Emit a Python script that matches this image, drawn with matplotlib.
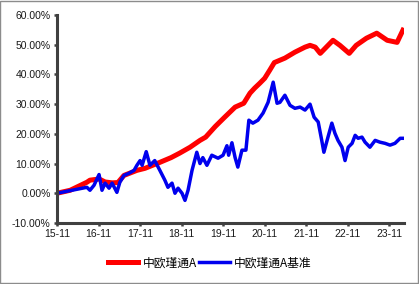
import matplotlib
matplotlib.use("Agg")
import matplotlib.pyplot as plt
import matplotlib.dates as mdates
import pandas as pd
from matplotlib.patches import Rectangle

plt.rcParams['font.family'] = ['Liberation Sans', 'Noto Sans CJK SC', 'DejaVu Sans']

# 中欧瑾通A 累计收益 (%)
fund_dates = ['2015-11-01', '2016-02-25', '2016-07-21', '2016-08-17', '2016-11-06', '2016-12-28',
              '2017-02-28', '2017-04-20', '2017-06-12', '2017-10-04', '2017-12-15', '2018-04-24',
              '2018-08-01', '2018-10-15', '2019-01-15', '2019-04-12', '2019-06-01', '2019-08-25',
              '2019-11-15', '2020-02-15', '2020-05-01', '2020-06-25', '2020-08-05', '2020-09-18',
              '2020-11-01', '2020-12-15', '2021-01-25', '2021-04-28', '2021-07-25', '2021-10-22',
              '2021-12-05', '2022-01-20', '2022-03-05', '2022-06-25', '2022-08-25', '2022-11-15',
              '2023-01-15', '2023-04-15', '2023-07-15', '2023-10-15', '2024-01-10', '2024-03-01']
fund_vals = [0.0, 1.0, 3.7, 4.4, 4.8, 3.8,
             3.5, 3.6, 6.0, 7.7, 8.4, 10.4,
             12.0, 13.5, 15.5, 17.8, 18.9, 22.5,
             25.6, 29.0, 30.3, 33.7, 35.4, 37.0,
             38.7, 41.4, 44.0, 45.5, 47.5, 49.2,
             49.8, 49.2, 47.1, 51.5, 49.8, 47.1,
             49.8, 52.2, 53.9, 51.5, 50.8, 54.9]

# 中欧瑾通A基准 累计收益 (%)
bench_dates = ['2015-11-01', '2016-07-21', '2016-08-17', '2016-09-22', '2016-11-05', '2016-12-01',
               '2016-12-28', '2017-02-01', '2017-02-28', '2017-04-11', '2017-05-07', '2017-06-12',
               '2017-07-25', '2017-09-09', '2017-10-04', '2017-11-01', '2017-11-19', '2017-12-25',
               '2018-01-27', '2018-03-10', '2018-04-24', '2018-06-07', '2018-07-04', '2018-08-09',
               '2018-09-04', '2018-10-01', '2018-11-05', '2018-12-01', '2018-12-28', '2019-02-01',
               '2019-03-15', '2019-04-12', '2019-05-07', '2019-06-12', '2019-07-25', '2019-09-18',
               '2019-11-01', '2019-12-05', '2019-12-20', '2020-01-18', '2020-02-15', '2020-03-10',
               '2020-04-15', '2020-05-20', '2020-06-15', '2020-07-20', '2020-09-03', '2020-10-18',
               '2020-12-01', '2021-01-15', '2021-02-18', '2021-03-15', '2021-04-28', '2021-06-12',
               '2021-07-25', '2021-09-09', '2021-10-22', '2021-12-05', '2022-01-10', '2022-02-15',
               '2022-03-18', '2022-04-06', '2022-05-12', '2022-06-15', '2022-07-12', '2022-08-08',
               '2022-09-12', '2022-10-09', '2022-11-06', '2022-12-10', '2023-01-06', '2023-02-01',
               '2023-03-07', '2023-04-03', '2023-05-16', '2023-07-01', '2023-08-12', '2023-09-26',
               '2023-11-09', '2023-12-22', '2024-02-06', '2024-03-04']
bench_vals = [0.0, 2.0, 1.0, 2.7, 6.3, 1.0,
              3.4, 1.7, 3.4, 0.3, 3.7, 6.0,
              6.7, 7.7, 9.4, 11.0, 9.4, 14.0,
              9.4, 11.0, 7.7, 4.4, 2.0, 3.4,
              0.0, 1.7, 0.0, -2.4, 1.0, 7.7,
              13.8, 10.0, 12.0, 9.4, 12.8, 11.8,
              12.8, 16.0, 12.8, 17.0, 12.0, 8.8,
              14.5, 14.5, 24.6, 23.6, 24.6, 27.0,
              30.6, 37.4, 30.3, 30.6, 33.0, 29.6,
              28.6, 29.0, 28.0, 30.0, 25.6, 24.0,
              17.8, 13.8, 18.9, 23.6, 20.2, 17.8,
              15.5, 11.0, 15.5, 16.8, 19.5, 18.5,
              18.9, 17.2, 15.5, 17.8, 17.2, 16.8,
              16.2, 16.8, 18.5, 18.5]

tick_dates = ['2015-11-01', '2016-11-01', '2017-11-01', '2018-11-01', '2019-11-01',
              '2020-11-01', '2021-11-01', '2022-11-01', '2023-11-01']
y_ticks = [-10, 0, 10, 20, 30, 40, 50, 60]

fig = plt.figure(figsize=(4.19, 2.84), dpi=100)
ax = fig.add_axes([0.136, 0.215, 0.828, 0.732])

ax.plot(pd.to_datetime(fund_dates), fund_vals, color='#ff0000', lw=3.6,
        solid_joinstyle='round', label='中欧瑾通A')
ax.plot(pd.to_datetime(bench_dates), bench_vals, color='#0000ee', lw=2.5,
        solid_joinstyle='round', label='中欧瑾通A基准')

ax.set_ylim(-10, 60)
ax.set_yticks(y_ticks)
ax.set_yticklabels([f'{v:.2f}%' for v in y_ticks])
ax.set_xlim(pd.Timestamp('2015-11-01'), pd.Timestamp('2024-03-10'))
ax.set_xticks(pd.to_datetime(tick_dates))
ax.xaxis.set_major_formatter(mdates.DateFormatter('%y-%m'))

for s in ['top', 'right']:
    ax.spines[s].set_visible(False)
for s in ['left', 'bottom']:
    ax.spines[s].set_color('#404040')
    ax.spines[s].set_linewidth(2.2)
ax.tick_params(axis='both', length=2.5, width=1.8, color='#404040',
               labelsize=7.5, labelcolor='#1a1a1a', pad=2)

fig.legend(loc='center', bbox_to_anchor=(0.5, 1 - 263 / 284), ncol=2, frameon=False,
           handlelength=2.6, handletextpad=0.35, columnspacing=0.2,
           prop={'family': ['Noto Sans CJK SC', 'DejaVu Sans'], 'size': 8.5})

# 外框
fig.patches.append(Rectangle((0.001, 0.002), 0.997, 0.995, transform=fig.transFigure,
                             fill=False, edgecolor='#8c8c8c', lw=1))

fig.savefig('out.png', dpi=100)
